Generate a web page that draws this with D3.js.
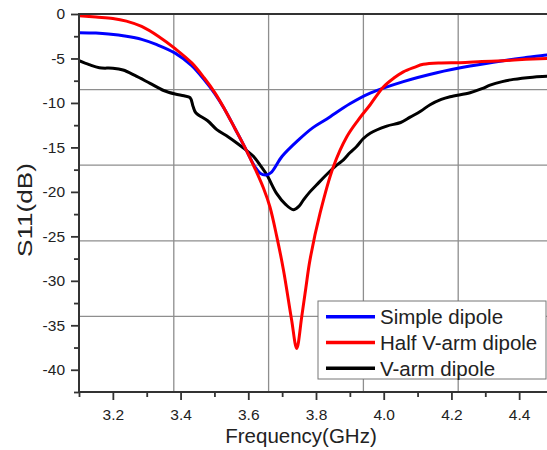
<!DOCTYPE html>
<html>
<head>
<meta charset="utf-8">
<script src="https://cdn.jsdelivr.net/npm/d3@7"></script>
<style>
  html, body { margin: 0; padding: 0; background: #fff; }
  svg { display: block; font-family: Arial, "Liberation Sans", sans-serif; }
</style>
</head>
<body>
<svg id="chart" width="547" height="450"></svg>
<script>
// ---------- data ----------
const seriesNames = ["Simple dipole", "Half V-arm dipole", "V-arm dipole"];
const seriesColors = ["#0000ff", "#ff0000", "#000000"];

const simpleFreq = [3.10, 3.15, 3.187, 3.24, 3.285, 3.33, 3.384, 3.433, 3.47, 3.502, 3.53, 3.561, 3.59, 3.62, 3.635, 3.652, 3.668, 3.70, 3.75, 3.79, 3.832, 3.90, 3.96, 4.058, 4.157, 4.255, 4.353, 4.42, 4.482, 4.50];
const simpleS11 = [-2.1, -2.15, -2.25, -2.5, -2.85, -3.45, -4.4, -5.8, -7.4, -9.0, -10.7, -12.9, -15.0, -17.2, -17.9, -18.1, -17.8, -16.0, -14.1, -12.8, -11.8, -10.1, -8.9, -7.6, -6.6, -5.85, -5.25, -4.9, -4.6, -4.55];

const halfFreq = [3.10, 3.15, 3.20, 3.24, 3.285, 3.334, 3.384, 3.433, 3.47, 3.502, 3.53, 3.561, 3.59, 3.62, 3.645, 3.664, 3.684, 3.704, 3.728, 3.743, 3.758, 3.77, 3.782, 3.812, 3.851, 3.891, 3.925, 3.96, 3.999, 4.03, 4.058, 4.09, 4.117, 4.17, 4.225, 4.29, 4.353, 4.42, 4.482, 4.50];
const halfS11 = [-0.2, -0.35, -0.5, -0.8, -1.4, -2.5, -3.9, -5.5, -7.2, -8.9, -10.7, -12.9, -15.0, -17.4, -19.6, -21.7, -25.0, -28.8, -34.4, -37.6, -34.0, -30.8, -27.7, -22.4, -17.2, -13.8, -11.9, -10.2, -8.2, -7.2, -6.5, -6.0, -5.66, -5.5, -5.47, -5.35, -5.25, -5.1, -4.99, -4.95];

const vFreq = [3.10, 3.13, 3.16, 3.20, 3.23, 3.265, 3.31, 3.35, 3.384, 3.41, 3.428, 3.437, 3.445, 3.48, 3.507, 3.54, 3.566, 3.59, 3.615, 3.635, 3.655, 3.684, 3.71, 3.733, 3.75, 3.763, 3.782, 3.802, 3.83, 3.861, 3.881, 3.90, 3.92, 3.94, 3.96, 4.009, 4.05, 4.078, 4.11, 4.137, 4.17, 4.196, 4.255, 4.29, 4.314, 4.35, 4.383, 4.44, 4.482, 4.50];
const vS11 = [-5.25, -5.7, -6.05, -6.1, -6.3, -6.9, -7.8, -8.6, -9.0, -9.2, -9.4, -10.4, -11.1, -12.0, -13.0, -13.8, -14.5, -15.2, -16.0, -17.0, -18.1, -20.2, -21.4, -22.0, -21.6, -20.9, -20.0, -19.2, -18.1, -17.0, -16.4, -15.6, -14.9, -14.0, -13.4, -12.6, -12.2, -11.6, -10.9, -10.2, -9.6, -9.3, -8.85, -8.4, -8.0, -7.6, -7.35, -7.1, -7.0, -6.95];

const xDomain = [3.1, 4.5];
const yDomain = [-42.5, 0];
const xMajorTicks = [3.2, 3.4, 3.6, 3.8, 4.0, 4.2, 4.4];
const xTickLabels = ["3.2", "3.4", "3.6", "3.8", "4.0", "4.2", "4.4"];
const xMinorTicks = [3.1, 3.3, 3.5, 3.7, 3.9, 4.1, 4.3, 4.5];
const yMajorTicks = [0, -5, -10, -15, -20, -25, -30, -35, -40];
const yTickLabels = ["0", "-5", "-10", "-15", "-20", "-25", "-30", "-35", "-40"];
const yMinorTicks = [-2.5, -7.5, -12.5, -17.5, -22.5, -27.5, -32.5, -37.5, -42.5];
const xGrid = [3.38, 3.66, 3.94, 4.22];
const yGrid = [-8.5, -17, -25.5, -34];
const xTitle = "Frequency(GHz)";
const yTitle = "S11(dB)";

// ---------- layout ----------
const pLeft = 79, pRight = 553, pTop = 14, pBottom = 392;
const svg = d3.select("#chart");
const x = d3.scaleLinear().domain(xDomain).range([pLeft, pRight]);
const y = d3.scaleLinear().domain(yDomain).range([pBottom, pTop]);

// grid
const grid = svg.append("g").attr("stroke", "#8e8e8e").attr("stroke-width", 1.3);
grid.selectAll("line.vx").data(xGrid).join("line").attr("class", "vx")
  .attr("x1", d => x(d)).attr("x2", d => x(d)).attr("y1", pTop).attr("y2", pBottom);
grid.selectAll("line.hy").data(yGrid).join("line").attr("class", "hy")
  .attr("y1", d => y(d)).attr("y2", d => y(d)).attr("x1", pLeft).attr("x2", pRight);

// series
const series = [
  {name: seriesNames[0], color: seriesColors[0], f: simpleFreq, v: simpleS11},
  {name: seriesNames[1], color: seriesColors[1], f: halfFreq, v: halfS11},
  {name: seriesNames[2], color: seriesColors[2], f: vFreq, v: vS11}
];
const line = d3.line().x(d => x(d[0])).y(d => y(d[1])).curve(d3.curveCatmullRom.alpha(0.5));
svg.append("clipPath").attr("id", "clip").append("rect")
  .attr("x", pLeft).attr("y", pTop - 2).attr("width", pRight - pLeft).attr("height", pBottom - pTop + 2);
const drawOrder = [2, 0, 1];
svg.append("g").attr("clip-path", "url(#clip)")
  .selectAll("path").data(drawOrder.map(i => series[i])).join("path")
  .attr("d", s => line(s.f.map((f, i) => [f, s.v[i]])))
  .attr("fill", "none").attr("stroke", s => s.color).attr("stroke-width", 3)
  .attr("stroke-linejoin", "round").attr("stroke-linecap", "round");

// axes
const axisColor = "#333";
const xAxis = svg.append("g").attr("transform", `translate(0,${pBottom})`)
  .call(d3.axisBottom(x).tickValues(xMajorTicks).tickSize(8).tickPadding(9)
    .tickFormat((d, i) => xTickLabels[i]));
const xMinor = svg.append("g").attr("transform", `translate(0,${pBottom})`)
  .call(d3.axisBottom(x).tickValues(xMinorTicks).tickSize(5).tickFormat(""));
const yAxis = svg.append("g").attr("transform", `translate(${pLeft},0)`)
  .call(d3.axisLeft(y).tickValues(yMajorTicks).tickSize(8).tickPadding(6)
    .tickFormat((d, i) => yTickLabels[i]));
const yMinor = svg.append("g").attr("transform", `translate(${pLeft},0)`)
  .call(d3.axisLeft(y).tickValues(yMinorTicks).tickSize(5).tickFormat(""));
[xAxis, xMinor, yAxis, yMinor].forEach(g => {
  g.select(".domain").remove();
  g.selectAll(".tick line").attr("stroke", axisColor).attr("stroke-width", 1.8);
  g.selectAll(".tick text").attr("fill", "#222").style("font-size", "15.5px")
    .style("font-family", "Arial, 'Liberation Sans', sans-serif");
});

// frame
svg.append("rect").attr("x", pLeft).attr("y", pTop).attr("width", pRight - pLeft).attr("height", pBottom - pTop)
  .attr("fill", "none").attr("stroke", axisColor).attr("stroke-width", 2);

// axis titles
svg.append("text").attr("x", 301).attr("y", 443)
  .attr("text-anchor", "middle").attr("fill", "#222").style("font-size", "20.5px").text(xTitle);
svg.append("text").attr("transform", "translate(32,210) rotate(-90)")
  .attr("text-anchor", "middle").attr("fill", "#222").style("font-size", "20.5px")
  .attr("textLength", 94).attr("lengthAdjust", "spacingAndGlyphs").text(yTitle);

// legend
const lg = svg.append("g");
lg.append("rect").attr("x", 318).attr("y", 301).attr("width", 228).attr("height", 78)
  .attr("fill", "#fff").attr("stroke", "#777").attr("stroke-width", 1);
const rows = lg.selectAll("g.row").data(series).join("g").attr("class", "row")
  .attr("transform", (d, i) => `translate(0,${316.7 + i * 25.8})`);
rows.append("line").attr("x1", 326).attr("x2", 375).attr("y1", 0).attr("y2", 0)
  .attr("stroke", d => d.color).attr("stroke-width", 3.5);
rows.append("text").attr("x", 380).attr("y", 7.3).attr("fill", "#222")
  .style("font-size", "20.5px").text(d => d.name);
</script>
</body>
</html>
